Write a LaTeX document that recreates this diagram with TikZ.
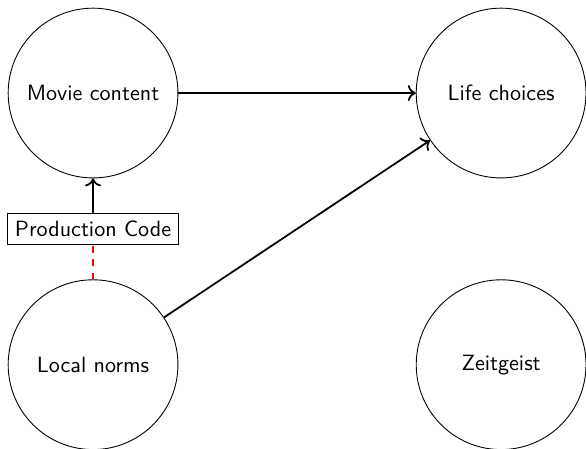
\documentclass[tikz,border=0pt]{standalone}
\usepackage{tikz}
\usetikzlibrary{arrows.meta}

\begin{document}
\begin{tikzpicture}[font=\sffamily,
    var/.style={draw, circle, minimum size=2.70cm, inner sep=0pt},
    rule/.style={draw, rectangle, fill=white},
    effect/.style={-{To[length=3.6pt, width=7.2pt]}, thick}]

          \useasboundingbox (0,0) rectangle (9.32,-7.14);

          \node[var] (M) at (1.48,-1.48) {Movie content};
          \node[var] (L) at (7.97,-1.48) {Life choices};
          \node[var] (N) at (1.48,-5.80) {Local norms};
          \node[var] (Z) at (7.97,-5.80) {Zeitgeist};
          \node[rule] (P) at (1.48,-3.64) {Production Code};

          % Production Code sits between norms and content
          \draw[red, thick, dashed] (N)--(P);
          \draw[effect] (P)--(M);
          \draw[effect] (M)--(L);
          \draw[effect] (N)--(L);

        \end{tikzpicture}
\end{document}
